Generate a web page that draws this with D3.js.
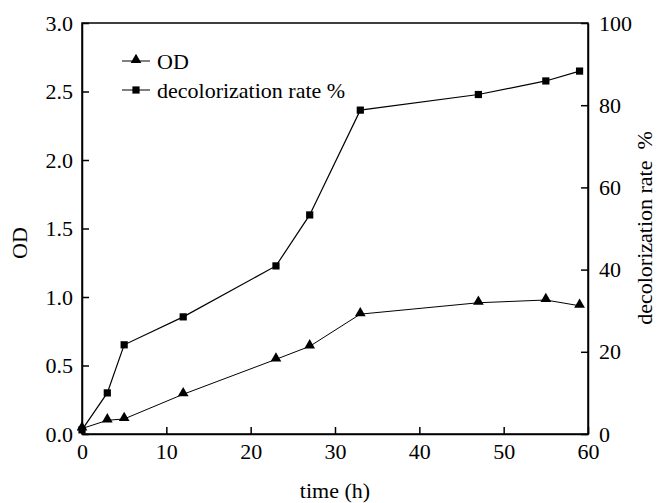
<!DOCTYPE html>
<html>
<head>
<meta charset="utf-8">
<script src="https://cdn.jsdelivr.net/npm/d3@7"></script>
<style>
  body { margin: 0; background: #fff; }
  svg text { font-family: "Liberation Serif", "Times New Roman", serif; fill: #000; }
</style>
</head>
<body>
<div id="root"></div>
<script>
// data
const times = [0, 3, 5, 12, 23, 27, 33, 47, 55, 59];
const odValues = [0.04, 0.10, 0.11, 0.29, 0.545, 0.64, 0.875, 0.958, 0.978, 0.936];
const decolorValues = [1, 10, 21.7, 28.5, 40.9, 53.3, 78.8, 82.6, 85.9, 88.3];
const xTicks = [0, 10, 20, 30, 40, 50, 60];
const leftTicks = [0, 0.5, 1.0, 1.5, 2.0, 2.5, 3.0];
const rightTicks = [0, 20, 40, 60, 80, 100];
const legendLabels = ['OD', 'decolorization rate %'];

const width = 657;
const height = 503;
const margins = { top: 23, right: 69, bottom: 69, left: 82 };
const plotW = width - margins.left - margins.right;
const plotH = height - margins.top - margins.bottom;
const fontSize = 22;

const svg = d3.select('#root')
  .append('svg')
  .attr('width', width)
  .attr('height', height)
  .attr('font-family', '"Liberation Serif", serif')
  .attr('font-size', fontSize);

const g = svg.append('g')
  .attr('transform', `translate(${margins.left}, ${margins.top})`);

const x = d3.scaleLinear().domain([0, 60]).range([0, plotW]);
const yLeft = d3.scaleLinear().domain([0, 3]).range([plotH, 0]);
const yRight = d3.scaleLinear().domain([0, 100]).range([plotH, 0]);

// frame
g.append('rect')
  .attr('width', plotW)
  .attr('height', plotH)
  .attr('fill', 'none')
  .attr('stroke', '#000')
  .attr('stroke-width', 1.5);

// axes, ticks point inward
const xAxis = g.append('g')
  .attr('transform', `translate(0, ${plotH})`)
  .call(d3.axisBottom(x).tickValues(xTicks).tickSizeInner(-7).tickSizeOuter(0).tickPadding(9));
const leftAxis = g.append('g')
  .call(d3.axisLeft(yLeft).tickValues(leftTicks).tickFormat(d3.format('.1f'))
    .tickSizeInner(-7).tickSizeOuter(0).tickPadding(9));
const rightAxis = g.append('g')
  .attr('transform', `translate(${plotW}, 0)`)
  .call(d3.axisRight(yRight).tickValues(rightTicks).tickSizeInner(-7).tickSizeOuter(0).tickPadding(11));

[xAxis, leftAxis, rightAxis].forEach(ax => {
  ax.attr('font-family', null).attr('font-size', null);
  ax.select('.domain').attr('stroke-width', 1.5);
  ax.selectAll('.tick line').attr('stroke-width', 1.5);
});

// series
const lineOD = d3.line()
  .x((d, i) => x(times[i]))
  .y(d => yLeft(d));
const lineDecolor = d3.line()
  .x((d, i) => x(times[i]))
  .y(d => yRight(d));

g.append('path')
  .datum(odValues)
  .attr('d', lineOD)
  .attr('fill', 'none')
  .attr('stroke', '#000')
  .attr('stroke-width', 1);
g.append('path')
  .datum(decolorValues)
  .attr('d', lineDecolor)
  .attr('fill', 'none')
  .attr('stroke', '#000')
  .attr('stroke-width', 1.2);

const triangle = d3.symbol().type(d3.symbolTriangle).size(50);
const square = d3.symbol().type(d3.symbolSquare).size(52);

g.selectAll('.od-mark')
  .data(odValues)
  .join('path')
  .attr('class', 'od-mark')
  .attr('d', triangle)
  .attr('transform', (d, i) => `translate(${x(times[i])}, ${yLeft(d) - 1})`)
  .attr('fill', '#000');

g.selectAll('.dec-mark')
  .data(decolorValues)
  .join('path')
  .attr('class', 'dec-mark')
  .attr('d', square)
  .attr('transform', (d, i) => `translate(${x(times[i])}, ${yRight(d)})`)
  .attr('fill', '#000');

// legend
const legend = svg.append('g').attr('transform', 'translate(122, 61)');
const symbols = [triangle, square];
legendLabels.forEach((label, i) => {
  const row = legend.append('g').attr('transform', `translate(0, ${i * 29})`);
  row.append('line')
    .attr('x1', 0).attr('x2', 28)
    .attr('stroke', '#000').attr('stroke-width', 1);
  row.append('path')
    .attr('d', symbols[i])
    .attr('transform', `translate(14, ${i === 0 ? -1 : 0})`)
    .attr('fill', '#000');
  row.append('text')
    .attr('x', 35)
    .attr('dy', '0.35em')
    .text(label);
});

// axis titles
svg.append('text')
  .attr('transform', `translate(22, 243) rotate(-90)`)
  .attr('text-anchor', 'middle')
  .attr('dominant-baseline', 'middle')
  .text('OD');

svg.append('text')
  .attr('transform', `translate(647, 228) rotate(-90)`)
  .attr('text-anchor', 'middle')
  .attr('dominant-baseline', 'middle')
  .style('white-space', 'pre')
  .text('decolorization rate  %');

svg.append('text')
  .attr('x', 335)
  .attr('y', 498)
  .attr('text-anchor', 'middle')
  .text('time (h)');
</script>
</body>
</html>
